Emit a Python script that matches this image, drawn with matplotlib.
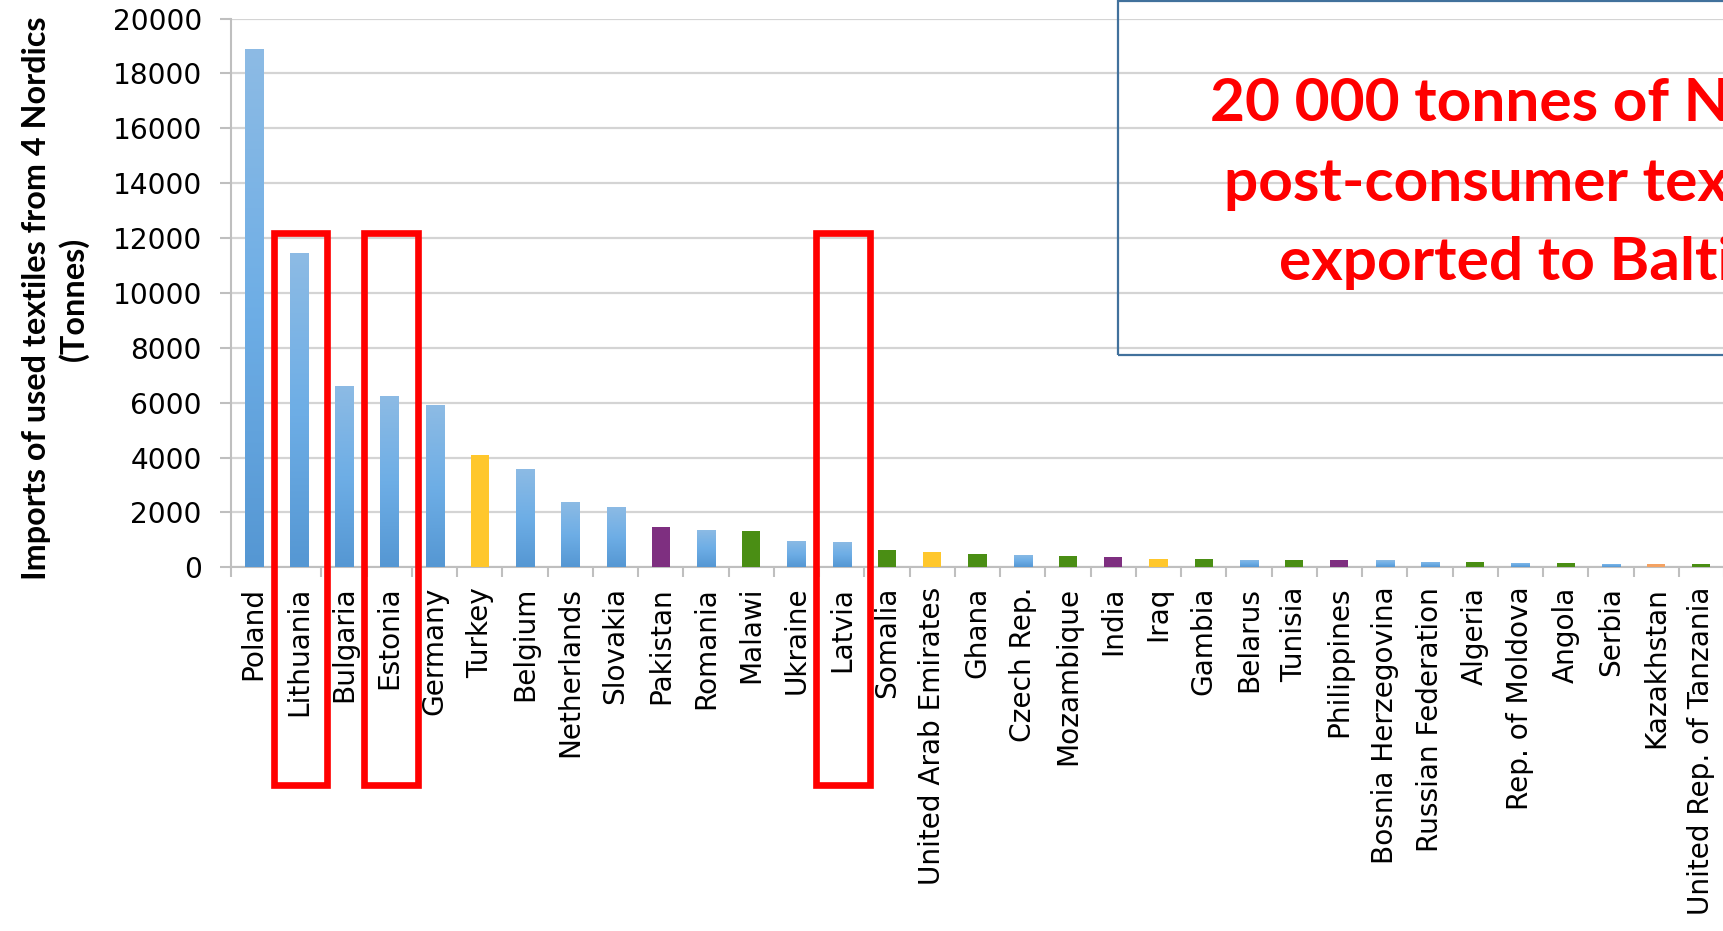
"""Imports of used textiles from 4 Nordic countries, by destination."""

import numpy as np
import matplotlib
matplotlib.use('Agg')
import matplotlib.pyplot as plt
from matplotlib.patches import Rectangle
from matplotlib.colors import LinearSegmentedColormap
from matplotlib.transforms import blended_transform_factory

countries = ['Poland', 'Lithuania', 'Bulgaria', 'Estonia', 'Germany', 'Turkey',
             'Belgium', 'Netherlands', 'Slovakia', 'Pakistan', 'Romania', 'Malawi',
             'Ukraine', 'Latvia', 'Somalia', 'United Arab Emirates', 'Ghana',
             'Czech Rep.', 'Mozambique', 'India', 'Iraq', 'Gambia', 'Belarus',
             'Tunisia', 'Philippines', 'Bosnia Herzegovina', 'Russian Federation',
             'Algeria', 'Rep. of Moldova', 'Angola', 'Serbia', 'Kazakhstan',
             'United Rep. of Tanzania']
imports_tonnes = [18900, 11450, 6600, 6250, 5900, 4100, 3600, 2380, 2200, 1470,
                  1350, 1320, 950, 930, 640, 560, 490, 450, 420, 360, 300, 300,
                  265, 260, 260, 250, 205, 190, 170, 155, 135, 130, 105]
regions = ['Europe', 'Europe', 'Europe', 'Europe', 'Europe', 'Middle East',
           'Europe', 'Europe', 'Europe', 'Asia', 'Europe', 'Africa',
           'Europe', 'Europe', 'Africa', 'Middle East', 'Africa',
           'Europe', 'Africa', 'Asia', 'Middle East', 'Africa', 'Europe',
           'Africa', 'Asia', 'Europe', 'Europe',
           'Africa', 'Europe', 'Africa', 'Europe', 'Central Asia',
           'Africa']
highlighted = ['Lithuania', 'Estonia', 'Latvia']
y_ticks = [0, 2000, 4000, 6000, 8000, 10000, 12000, 14000, 16000, 18000, 20000]
box_lines = ['20 000 tonnes of Nordic', 'post-consumer textiles', 'exported to Baltics']

region_colors = {'Europe': '#66A5DD', 'Middle East': '#FFC72C', 'Asia': '#7E2F80',
                 'Africa': '#4A8E14', 'Central Asia': '#F4A262'}

fig = plt.figure(figsize=(17.24, 9.31), dpi=100)
ax = fig.add_axes([0.134, 0.3906, 0.866, 0.5894])

x = np.arange(len(countries))
colors = [region_colors[r] for r in regions]
bars = ax.bar(x, imports_tonnes, width=0.4, color=colors, zorder=3)

# light-to-dark gradient on the blue bars, like the Excel fill
blue_grad = LinearSegmentedColormap.from_list('bg', ['#5597D3', '#6EAEE6', '#8DBBE4'])
grad = np.linspace(0, 1, 256).reshape(-1, 1)
for bar, reg in zip(bars, regions):
    if reg != 'Europe':
        continue
    x0, y0 = bar.get_xy()
    im = ax.imshow(grad, extent=[x0, x0 + bar.get_width(), y0, y0 + bar.get_height()],
                   origin='lower', cmap=blue_grad, aspect='auto', zorder=4)
    im.set_clip_path(bar)

ax.set_xlim(-0.5, 32.38)
ax.set_ylim(0, 20000)
ax.set_yticks(y_ticks)
ax.set_yticklabels([str(t) for t in y_ticks], fontsize=20.2, family='DejaVu Sans')
ax.set_xticks(x)
ax.set_xticklabels(countries, rotation=90, fontsize=20.2, family='DejaVu Sans',
                   va='top', ha='center')
ax.set_xticks(np.arange(-0.5, len(countries), 1), minor=True)
ax.tick_params(axis='x', which='major', length=0, pad=14)
ax.tick_params(axis='x', which='minor', length=7, width=1.5, color='#BFBFBF')
ax.tick_params(axis='y', length=8, width=1.5, color='#BFBFBF', pad=13)

ax.grid(axis='y', color='#D4D4D4', linewidth=1.6, zorder=0)
for side in ['top', 'right']:
    ax.spines[side].set_visible(False)
for side in ['left', 'bottom']:
    ax.spines[side].set_color('#BFBFBF')
    ax.spines[side].set_linewidth(1.5)

ax.set_ylabel('Imports of used textiles from 4 Nordics\n(Tonnes)', fontsize=23.3,
              fontweight='bold', family='Lato', linespacing=1.3)
ax.yaxis.set_label_coords(-0.095, 0.49)

# red frames around the Baltic countries
trans = blended_transform_factory(ax.transData, ax.transAxes)
for name in highlighted:
    i = countries.index(name)
    ax.add_patch(Rectangle((i - 0.56, -0.397), 1.19, 1.007, transform=trans,
                           fill=False, edgecolor='#FF0000', linewidth=4.8,
                           clip_on=False, zorder=6))

# text box, running off the right edge as in the source slide
fig.patches.append(Rectangle((0.6485, 0.6187), 0.5, 0.380, transform=fig.transFigure,
                             fill=False, edgecolor='#41719C', linewidth=1.6))
for line, lx, ly in zip(box_lines, [0.7016, 0.7100, 0.7419], [0.870, 0.784, 0.699]):
    fig.text(lx, ly, line, color='#FF0000', fontsize=43.5, fontweight='bold',
             family='Lato', ha='left', va='baseline')

fig.savefig('out.png', dpi=100)
